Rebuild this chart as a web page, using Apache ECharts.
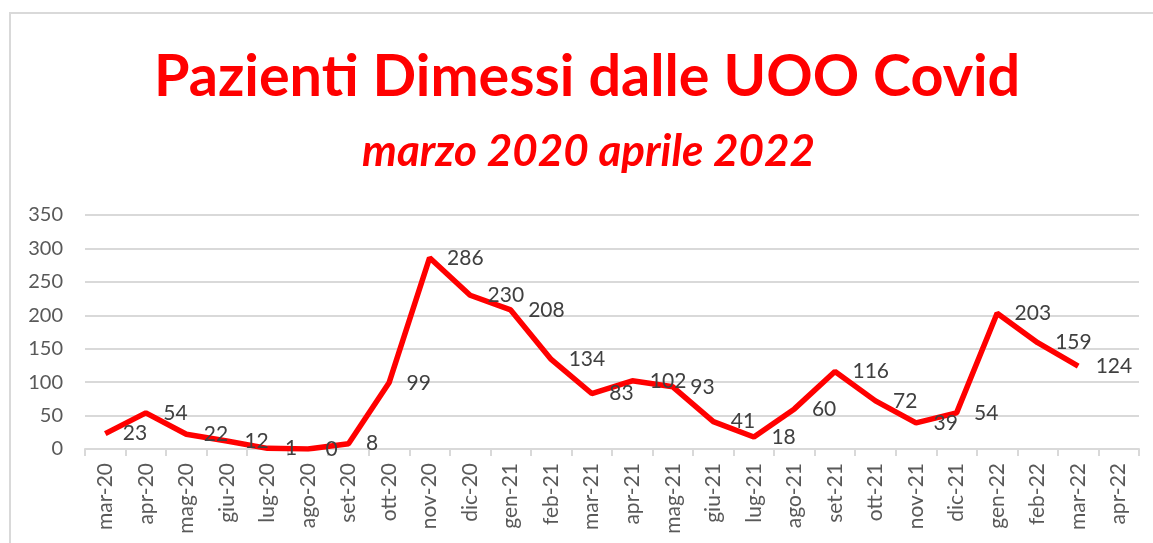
<!DOCTYPE html>
<html>
<head>
<meta charset="utf-8">
<script src="https://cdn.jsdelivr.net/npm/echarts@6/dist/echarts.min.js"></script>
<style>
  html, body { margin: 0; padding: 0; background: #fff; }
  #chart { width: 1153px; height: 543px; }
</style>
</head>
<body>
<div id="chart"></div>
<script>
const months = [
  'mar-20', 'apr-20', 'mag-20', 'giu-20', 'lug-20', 'ago-20', 'set-20', 'ott-20', 'nov-20',
  'dic-20', 'gen-21', 'feb-21', 'mar-21', 'apr-21', 'mag-21', 'giu-21', 'lug-21', 'ago-21',
  'set-21', 'ott-21', 'nov-21', 'dic-21', 'gen-22', 'feb-22', 'mar-22', 'apr-22',
];
const dimessi = [
  23, 54, 22, 12, 1, 0, 8, 99, 286, 230, 208, 134, 83, 102, 93, 41, 18, 60, 116, 72, 39, 54, 203, 159, 124,
];
const yTicks = [0, 50, 100, 150, 200, 250, 300, 350];

const FONT = 'Lato';
const GRAY = '#595959';
const LINE_GRAY = '#d9d9d9';

const chart = echarts.init(document.getElementById('chart'), null, { renderer: 'canvas' });

chart.setOption({
  animation: false,
  backgroundColor: '#fff',
  textStyle: { fontFamily: FONT },
  graphic: [
    {
      type: 'rect',
      shape: { x: 10, y: 13, width: 1300, height: 700 },
      style: { fill: 'none', stroke: LINE_GRAY, lineWidth: 2 },
      silent: true,
    },
  ],
  // titles are centred over the plot, not the page
  title: [
    {
      text: 'Pazienti Dimessi dalle UOO Covid',
      left: 149,
      top: 43,
      textStyle: { color: '#ff0000', fontFamily: FONT, fontWeight: 'bold', fontSize: 57.5 },
    },
    {
      text: 'marzo 2020 aprile 2022',
      left: 357,
      top: 125,
      textStyle: { color: '#ff0000', fontFamily: FONT, fontWeight: 'bold', fontStyle: 'italic', fontSize: 44 },
    },
  ],
  grid: { left: 85, right: 14, top: 215, bottom: 94, outerBoundsMode: 'none' },
  xAxis: {
    type: 'category',
    data: months,
    boundaryGap: true,
    axisLine: { lineStyle: { color: LINE_GRAY, width: 2 } },
    axisTick: { show: true, length: 7, lineStyle: { color: LINE_GRAY, width: 2 } },
    axisLabel: { rotate: 90, interval: 0, color: GRAY, fontSize: 21, margin: 14, fontFamily: FONT },
  },
  yAxis: {
    type: 'value',
    min: yTicks[0],
    max: yTicks[yTicks.length - 1],
    interval: 50,
    axisLine: { show: false },
    axisTick: { show: false },
    axisLabel: { color: GRAY, fontSize: 20, margin: 22, fontFamily: FONT },
    splitLine: { lineStyle: { color: LINE_GRAY, width: 2 } },
  },
  series: [
    {
      type: 'line',
      data: dimessi,
      symbol: 'circle',
      symbolSize: 1,
      showSymbol: true,
      itemStyle: { color: 'rgba(255,0,0,0)', borderWidth: 0 },
      lineStyle: { color: '#ff0000', width: 5.5 },
      label: {
        show: true,
        position: 'right',
        distance: 17,
        color: '#404040',
        fontSize: 21,
        fontFamily: FONT,
      },
    },
  ],
});
</script>
</body>
</html>
